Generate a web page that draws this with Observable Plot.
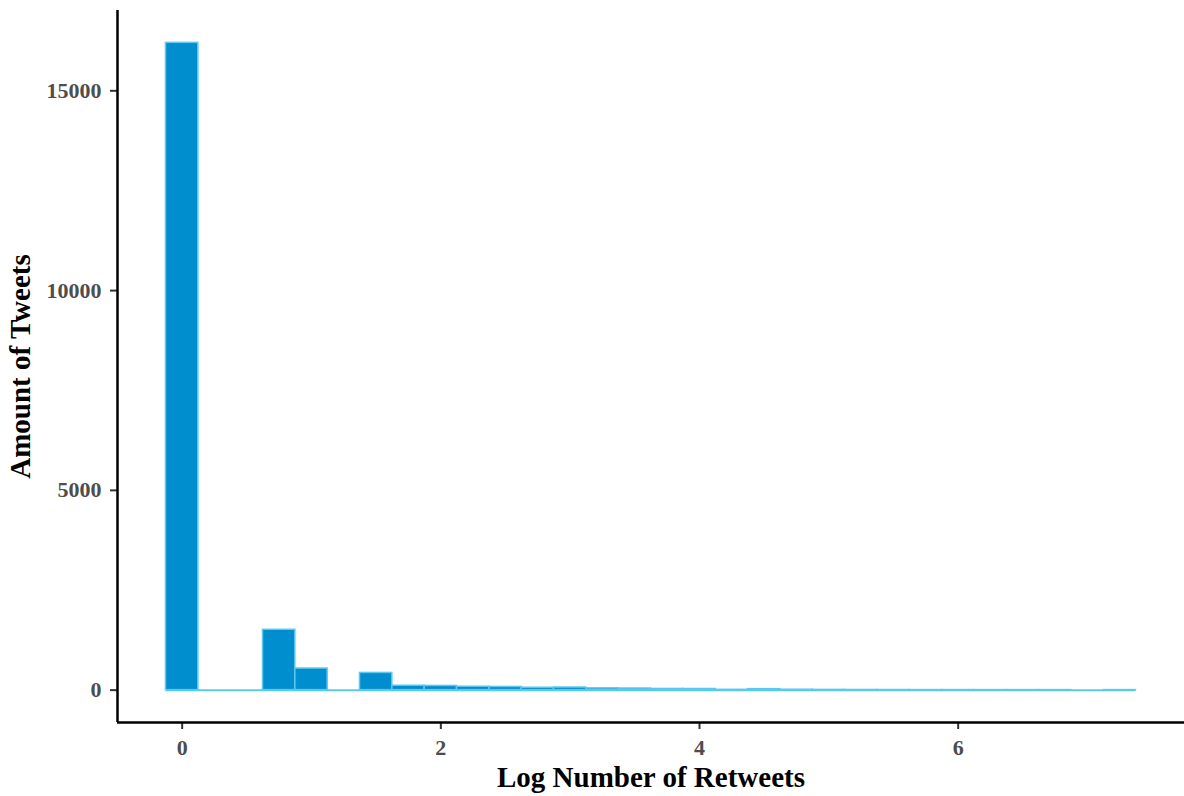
<!DOCTYPE html>
<html>
<head>
<meta charset="utf-8">
<script src="https://cdn.jsdelivr.net/npm/d3@7"></script>
<script src="https://cdn.jsdelivr.net/npm/@observablehq/plot@0.6"></script>
<style>
  html, body { margin: 0; padding: 0; background: #fff; }
  #chart svg { display: block; }
</style>
</head>
<body>
<div id="chart"></div>
<script>
// Bin centers (log number of retweets), width 0.25
const binCenters = [0, 0.25, 0.5, 0.75, 1.0, 1.25, 1.5, 1.75, 2.0, 2.25, 2.5, 2.75, 3.0, 3.25, 3.5,
  3.75, 4.0, 4.25, 4.5, 4.75, 5.0, 5.25, 5.5, 5.75, 6.0, 6.25, 6.5, 6.75, 7.0, 7.25];
const binWidth = 0.25;
// Amount of tweets per bin
const counts = [16200, 0, 0, 1510, 540, 0, 430, 110, 105, 85, 80, 60, 65, 45, 40,
  30, 28, 8, 25, 10, 6, 4, 3, 2, 2, 1, 1, 1, 0, 1];
const xTicks = [0, 2, 4, 6];
const yTicks = [0, 5000, 10000, 15000];
const xTitle = "Log Number of Retweets";
const yTitle = "Amount of Tweets";

const bins = binCenters.map((c, i) => ({x1: c - binWidth / 2, x2: c + binWidth / 2, count: counts[i]}));
const xMin = bins[0].x1, xMax = bins[bins.length - 1].x2;
const xPad = (xMax - xMin) * 0.05;
const yMax = d3.max(counts);
const yPad = yMax * 0.05;
const xDomain = [xMin - xPad, xMax + 0.375];
const yDomain = [-yPad, yMax + yPad];

const font = "'Liberation Serif', 'Times New Roman', serif";

const chart = Plot.plot({
  width: 1184,
  height: 796,
  marginLeft: 117,
  marginRight: 0,
  marginTop: 10,
  marginBottom: 74,
  style: {fontFamily: font, fontWeight: "bold", background: "#fff", overflow: "visible"},
  x: {domain: xDomain},
  y: {domain: yDomain},
  marks: [
    Plot.ruleY([0], {x1: xMin, x2: xMax, stroke: "#5BC8EE", strokeWidth: 2}),
    Plot.rectY(bins, {x1: "x1", x2: "x2", y: "count", fill: "#008ECE", stroke: "#5BC8EE", strokeWidth: 1.5}),
    Plot.axisX({ticks: xTicks, tickFormat: d3.format("d"), tickSize: 7, tickPadding: 10, fontSize: 22, color: "#4d4d4d", stroke: "#333", strokeWidth: 2, label: null}),
    Plot.axisY({ticks: yTicks, tickFormat: d3.format("d"), tickSize: 7, tickPadding: 9, fontSize: 22, color: "#4d4d4d", stroke: "#333", strokeWidth: 2, label: null}),
    Plot.ruleY([yDomain[0]], {stroke: "#000", strokeWidth: 2.5}),
    Plot.ruleX([xDomain[0]], {stroke: "#000", strokeWidth: 2.5}),
    Plot.text([xTitle], {frameAnchor: "bottom", textAnchor: "middle", lineAnchor: "middle", dy: 55, fontSize: 29, fill: "#000", fontWeight: "bold"}),
    Plot.text([yTitle], {frameAnchor: "left", textAnchor: "middle", lineAnchor: "middle", rotate: -90, dx: -97, fontSize: 29, fill: "#000", fontWeight: "bold"})
  ]
});
document.getElementById("chart").appendChild(chart);
</script>
</body>
</html>
